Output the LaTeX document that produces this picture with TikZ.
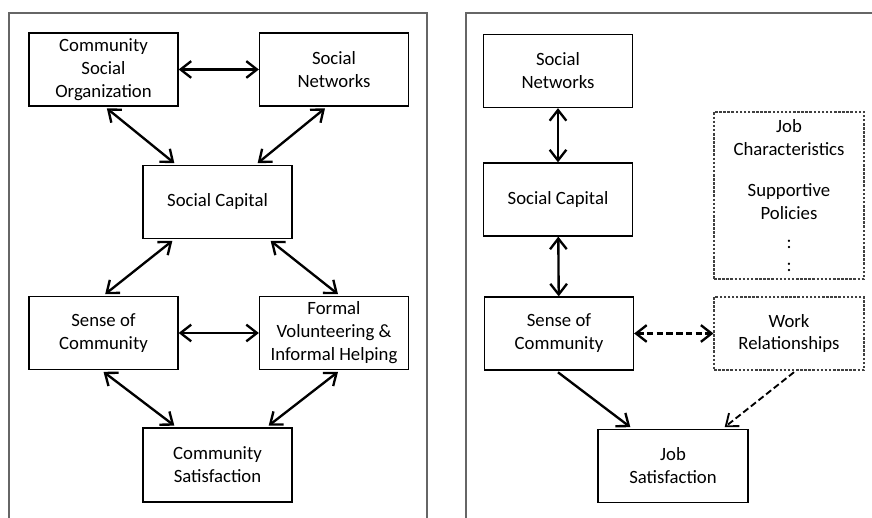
\documentclass[tikz,border=0pt]{standalone}
\usepackage{fontspec}
\setmainfont{Carlito}
\usetikzlibrary{arrows.meta, positioning}
\tikzset{block/.style={draw=black, line width=1.1pt, minimum width=4.47cm, minimum height=2.19cm, align=center, inner sep=1pt, font=\fontsize{16}{19.6}\selectfont},
  dblock/.style={block, draw=black!75, line width=0.9pt, dash pattern=on 2.2pt off 1.3pt},
  panel/.style={draw=black!60, line width=1.6pt},
  both/.style={{Straight Barb[length=0.32cm, width=0.5cm]}-{Straight Barb[length=0.32cm, width=0.5cm]}, line width=2pt},
  one/.style={-{Straight Barb[length=0.32cm, width=0.5cm]}, line width=2pt},
  dashes/.style={dash pattern=on 5.5pt off 2.8pt}}

\begin{document}
\begin{tikzpicture}
    \useasboundingbox (0,0) rectangle (26.16,15.54);

    % the two frames, open at the bottom
    \draw[panel] (0.27,-0.2) -- (0.27,15.15) -- (12.81,15.15) -- (12.81,-0.2);
    \draw[panel] (13.98,-0.2) -- (13.98,15.15) -- (26.4,15.15);

    % community side
    \node[block] (cso) at (3.105,13.455) {Community\\Social\\Organization};
    \node[block] (snL) at (10.02,13.455) {Social\\Networks};
    \node[block] (scL) at (6.525,9.48) {Social Capital};
    \node[block] (socL) at (3.105,5.55) {Sense of\\Community};
    \node[block] (fv) at (10.02,5.55) {Formal\\Volunteering \&\\Informal Helping};
    \node[block, minimum height=2.22cm] (cs) at (6.525,1.59) {Community\\Satisfaction};

    \draw[both] (cso) -- (snL);
    \draw[both] ([xshift=0.1cm,yshift=-0.05cm]cso.south) -- ([xshift=0.96cm,yshift=0.05cm]scL.north west);
    \draw[both] ([xshift=-0.27cm,yshift=-0.05cm]snL.south) -- ([xshift=-1.05cm,yshift=0.05cm]scL.north east);
    \draw[both] ([xshift=0.9cm,yshift=-0.05cm]scL.south west) -- ([xshift=0.05cm,yshift=0.05cm]socL.north);
    \draw[both] ([xshift=-0.66cm,yshift=-0.05cm]scL.south east) -- ([xshift=0.12cm,yshift=0.05cm]fv.north);
    \draw[both] (socL) -- (fv);
    \draw[both] ([yshift=-0.05cm]socL.south) -- ([xshift=0.96cm,yshift=0.05cm]cs.north west);
    \draw[both] ([xshift=0.12cm,yshift=-0.05cm]fv.south) -- ([xshift=-0.72cm,yshift=0.05cm]cs.north east);

    % workplace side
    \node[block] (snR) at (16.74,13.41) {Social\\Networks};
    \node[block] (scR) at (16.74,9.555) {Social Capital};
    \node[block] (socR) at (16.77,5.535) {Sense of\\Community};
    \node[dblock, minimum width=4.5cm, minimum height=5.01cm] (jc) at (23.67,9.675)
        {Job\\Characteristics\\[15pt]Supportive\\Policies\\[5pt]:\\:};
    \node[dblock, minimum width=4.5cm] (wr) at (23.67,5.535) {Work\\Relationships};
    \node[block, minimum width=4.5cm] (js) at (20.19,1.56) {Job\\Satisfaction};

    \draw[both] (snR) -- (scR);
    \draw[both] (scR) -- (socR);
    \draw[both, dashes] (socR) -- (wr);
    \draw[one] ([xshift=-0.03cm,yshift=-0.05cm]socR.south) -- ([xshift=0.99cm,yshift=0.05cm]js.north west);
    \draw[one, dashes, line width=1.6pt] ([xshift=0.15cm,yshift=-0.05cm]wr.south) -- ([xshift=-0.72cm,yshift=0.05cm]js.north east);
\end{tikzpicture}
\end{document}
